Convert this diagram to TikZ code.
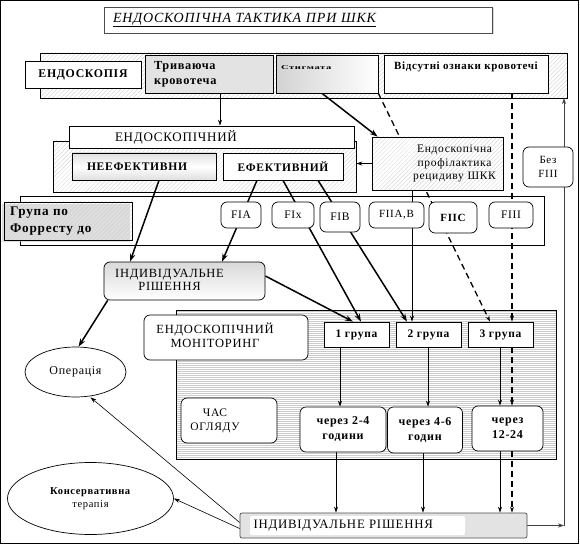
\documentclass[tikz,border=0pt]{standalone}
\usepackage{fontspec}
\setmainfont{Liberation Serif}[LetterSpace=6]
\usetikzlibrary{patterns.meta,calc,arrows.meta,shapes.geometric,shadows}
\pgfdeclarelayer{bg}\pgfdeclarelayer{fg}
\pgfsetlayers{bg,main,fg}
\newcommand\fsz[1]{\fontsize{#1}{\fpeval{#1*1.25}}\selectfont}
\begin{document}
\begin{tikzpicture}[x=1pt,y=-1pt,
  box/.style={draw, line width=0.7pt, inner sep=2pt, align=center, fill=white,
    font=\bfseries\fsz{12}},
  rbox/.style={box, rounded corners=6pt},
  hatch/.style={draw, line width=0.7pt, preaction={fill=white},
    pattern={Lines[angle=45, distance=3pt, line width=0.3pt]}, pattern color=gray!40, inner sep=0pt},
  arr/.style={-{Stealth[length=6pt,width=4pt]}, line width=0.6pt},
  tarr/.style={-{Stealth[length=8pt,width=5.5pt]}, line width=1.5pt},
  darr/.style={-{Stealth[length=6pt,width=4pt]}, line width=1.3pt, dash pattern=on 6pt off 4pt},
  ell/.style={draw, ellipse, line width=0.7pt, inner sep=0pt, fill=white, align=center}]
\useasboundingbox (0,0) rectangle (580,545);
\draw[line width=1pt] (0.5,0.5) rectangle (578.5,543.5);

% ---- background areas
\begin{pgfonlayer}{bg}
\node[hatch, minimum width=527, minimum height=45] (band) at (303.5,75.5) {};
\node[hatch, minimum width=303, minimum height=51] (grp) at (204.5,166.5) {};
\node[draw, line width=0.7pt, fill=white, minimum width=524, minimum height=49] (forb) at (282,220.5) {};
\node[draw, line width=0.7pt, preaction={fill=white},
  pattern={Lines[angle=0, distance=2pt, line width=0.3pt]}, pattern color=gray!40,
  minimum width=380, minimum height=149] (mon) at (366,384.5) {};
\end{pgfonlayer}

% ---- boxes
\begin{pgfonlayer}{fg}
\node[draw=gray!60!black, line width=0.8pt, fill=white, minimum width=388, minimum height=26,
  drop shadow={shadow xshift=1.5pt, shadow yshift=-1.5pt, fill=gray!60},
  text width=370, align=left, inner sep=2pt, font=\itshape\fsz{14}] (title) at (298,20)
  {\underline{ЕНДОСКОПІЧНА ТАКТИКА ПРИ ШКК}};

\node[box, minimum width=116, minimum height=27, font=\bfseries\fsz{11.8}] (endo) at (83,74.5) {ЕНДОСКОПІЯ};
\node[box, fill=gray!22, minimum width=128, minimum height=38, text width=110, align=left,
  font=\bfseries\fsz{12.3}] (tryv) at (209,74) {Триваюча\\кровотеча};
\node[box, left color=gray!35, right color=white, minimum width=102, minimum height=38,
  text width=92, align=left, font=\bfseries\fsz{6}] (stig) at (327,74)
  {\scalebox{1.75}[1]{Стигмата}\\[5pt]\mbox{}};
\node[box, minimum width=164, minimum height=38, font=\bfseries\fsz{11}] (vids) at (466,74)
  {Відсутні ознаки кровотечі\\[2pt]\mbox{}};

\node[box, minimum width=285, minimum height=22, text width=279, align=left,
  font=\fsz{13}] (endoskop) at (211.5,137) {\hspace*{43pt}ЕНДОСКОПІЧНИЙ};
\node[box, top color=gray!25, bottom color=gray!25, middle color=white, minimum width=144, minimum height=27,
  text width=138, align=left, font=\bfseries\fsz{11.6}] (neef) at (144,166.5) {\hspace*{12pt}НЕЕФЕКТИВНИ};
\node[box, minimum width=120, minimum height=27, font=\bfseries\fsz{11.5}] (ef) at (283,166.5) {ЕФЕКТИВНИЙ};
\node[hatch, minimum width=131, minimum height=53, font=\fsz{11.5}] (prof) at (437.5,163.5)
  {\hspace*{34pt}\begin{tabular}{@{}c@{}}Ендоскопічна\\[-1pt]профілактика\\[-1pt]рецидиву ШКК\end{tabular}};
\node[rbox, minimum width=50, minimum height=40, font=\fsz{11}] (bezf) at (548,167) {Без\\FIII};

\node[hatch, minimum width=128, minimum height=38, text width=116, align=left,
  drop shadow={shadow xshift=-2pt, shadow yshift=-2pt, fill=gray!50},
  font=\bfseries\fsz{13.2}] (grpfor) at (68,221) {Група по\\Форресту до};
\node[rbox, minimum width=40, minimum height=26, font=\fsz{11.5}] (fia) at (241,215) {FIA};
\node[rbox, minimum width=42, minimum height=26, font=\fsz{11.5}] (fix) at (293,215) {FIx};
\node[rbox, minimum width=40, minimum height=30, font=\fsz{11.5}] (fib) at (340,217) {FIB};
\node[rbox, minimum width=55, minimum height=26, font=\fsz{11}] (fiiab) at (396.5,215) {FIIA,B};
\node[rbox, minimum width=48, minimum height=31, font=\bfseries\fsz{11}] (fiic) at (453,217.5) {FIIC};
\node[rbox, minimum width=44, minimum height=26, font=\fsz{11.5}] (fiii) at (511,215) {FIII};

\node[rbox, top color=gray!30, bottom color=white, minimum width=161, minimum height=38,
  font=\fsz{12.5}] (indmid) at (184.5,281)
  {\begin{tabular}{@{}c@{}}ІНДИВІДУАЛЬНЕ\\[-2pt]РІШЕННЯ\end{tabular}\hspace*{30pt}};

\node[rbox, minimum width=164, minimum height=45, font=\fsz{12.5}] (monbox) at (226,337.5)
  {\begin{tabular}{@{}c@{}}ЕНДОСКОПІЧНИЙ\\[-1pt]МОНІТОРИНГ\end{tabular}\hspace*{22pt}};
\node[box, minimum width=65, minimum height=25, font=\bfseries\fsz{11.5}] (g1) at (356.5,334.5) {1 група};
\node[box, minimum width=65, minimum height=25, font=\bfseries\fsz{11.5}] (g2) at (428.5,334.5) {2 група};
\node[box, minimum width=65, minimum height=25, font=\bfseries\fsz{11.5}] (g3) at (500.5,334.5) {3 група};

\node[ell, minimum width=101, minimum height=50, font=\fsz{12}] (oper) at (75.5,372) {Операція};
\node[rbox, minimum width=96, minimum height=45, font=\fsz{11.5}] (chas) at (229,420.5)
  {\begin{tabular}{@{}c@{}}ЧАС\\[-1pt]ОГЛЯДУ\end{tabular}\hspace*{28pt}};
\node[rbox, minimum width=86, minimum height=45] (t1) at (343,429.5) {через 2-4\\години};
\node[rbox, minimum width=75, minimum height=46] (t2) at (425,430) {через 4-6\\годин};
\node[rbox, minimum width=71, minimum height=45] (t3) at (507.5,428.5) {через\\12-24};

\node[ell, minimum width=166, minimum height=72, font=\fsz{10.5}] (kons) at (90.5,498.5)
  {\textbf{Консервативна}\\терапія};
\node[box, draw=gray!60!black, fill=gray!22, rounded corners=2pt, minimum width=287, minimum height=25,
  text width=280, align=left, font=\fsz{12.8},
  path picture={\fill[white] ([xshift=10pt,yshift=-3pt]path picture bounding box.north west)
    rectangle ([xshift=225pt,yshift=3pt]path picture bounding box.south west);}] (indbot) at (383.5,525.5)
  {\hspace*{10pt}ІНДИВІДУАЛЬНЕ РІШЕННЯ};
\end{pgfonlayer}

% ---- connectors
\draw[arr] (220,0 |- tryv.south) -- (220,0 |- endoskop.north);
\draw[tarr] (322,0 |- stig.south) -- ($(prof.north west)+(6,0)$);
\draw[darr] (stig.south east) -- (490,0 |- g3.north);
\draw[arr] (prof.west) -- (prof.west -| grp.east);
\draw[arr] (412,0 |- prof.south) -- (412,0 |- g2.north);
\draw[darr] (512,0 |- vids.south) -- (512,0 |- g3.north);
\draw[darr] (512,0 |- g3.south) -- (512,0 |- t3.north);
\draw[darr] (512,0 |- t3.south) -- (512,0 |- indbot.north);
\draw[arr] (340,0 |- g1.south) -- (340,0 |- t1.north);
\draw[arr] (336,0 |- t1.south) -- (336,0 |- indbot.north);
\draw[arr] (428,0 |- g2.south) -- (428,0 |- t2.north);
\draw[arr] (423,0 |- t2.south) -- (423,0 |- indbot.north);
\draw[arr] (500,0 |- g3.south) -- (500,0 |- t3.north);
\draw[arr] (500,0 |- t3.south) -- (500,0 |- indbot.north);
\draw[tarr] (159,0 |- neef.south) -- (130,0 |- indmid.north);
\draw[tarr] (257,0 |- ef.south) -- (222,0 |- indmid.north);
\draw[tarr] (283,0 |- ef.south) -- (361,0 |- g1.north);
\draw[tarr] (318,0 |- ef.south) -- (407,0 |- g2.north);
\draw[tarr] ([yshift=5pt]indmid.east) -- (353,0 |- g1.north);
\draw[tarr] ([xshift=4pt]indmid.south west) -- ($(oper.north)+(3,0)$);
\draw[arr] ([yshift=3pt]indbot.west) -- ($(oper.south)+(15,0)$);
\draw[arr] ([yshift=-3pt]indbot.west) -- (kons.east);
\coordinate (rc) at (564,0 |- indbot.east);
\draw[arr, black!75] (indbot.east) -- (rc);
\draw[arr, black!75] (rc) -- (rc |- band.south);
\end{tikzpicture}
\end{document}
